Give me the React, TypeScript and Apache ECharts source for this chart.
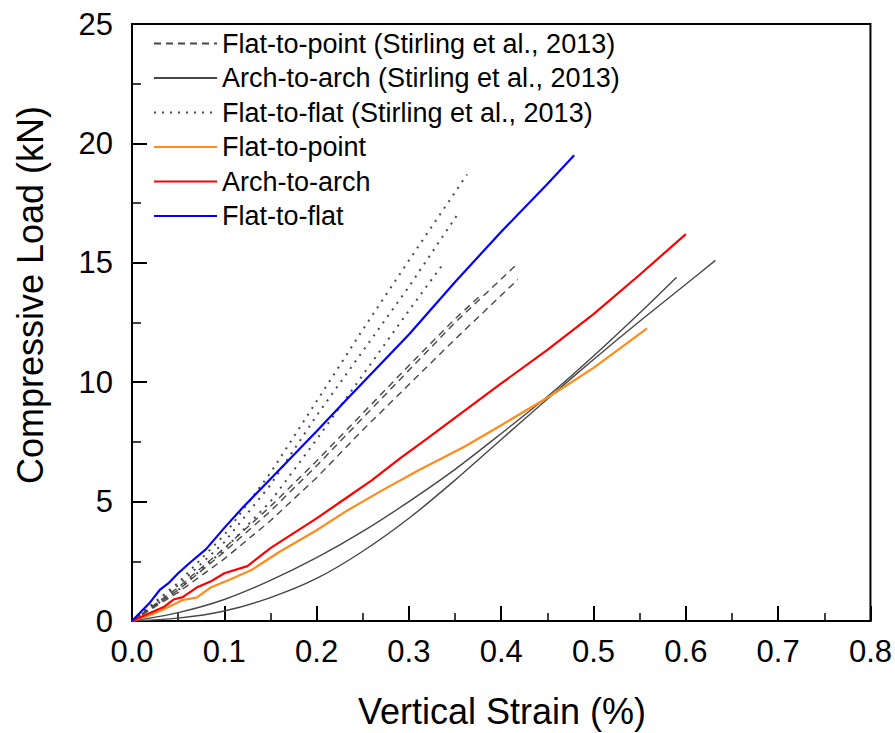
import React, { useEffect, useRef } from "react";
import * as echarts from "echarts";

const FONT = '"Liberation Sans", Arial, Helvetica, sans-serif';

const xTicks = [0, 0.1, 0.2, 0.3, 0.4, 0.5, 0.6, 0.7, 0.8];
const yTicks = [0, 5, 10, 15, 20, 25];

const legendNames = [
  "Flat-to-point (Stirling et al., 2013)",
  "Arch-to-arch (Stirling et al., 2013)",
  "Flat-to-flat (Stirling et al., 2013)",
  "Flat-to-point",
  "Arch-to-arch",
  "Flat-to-flat",
];

// Stirling et al. (2013) flat-to-point (dashed)
const stirlingFtP1 = [[0, 0], [0.05, 1.3], [0.1, 2.9], [0.15, 4.6], [0.2, 6.5], [0.25, 8.5], [0.3, 10.5], [0.35, 12.5], [0.416, 14.9]];
const stirlingFtP2 = [[0, 0], [0.05, 1.4], [0.1, 3.05], [0.15, 4.8], [0.2, 6.7], [0.25, 8.7], [0.3, 10.7], [0.35, 12.65], [0.378, 13.65]];
const stirlingFtP3 = [[0, 0], [0.05, 1.2], [0.1, 2.6], [0.15, 4.2], [0.2, 6.0], [0.25, 8.0], [0.3, 9.9], [0.35, 11.8], [0.418, 14.3]];

// Stirling et al. (2013) arch-to-arch (solid grey)
const stirlingAtA1 = [[0, 0], [0.05, 0.35], [0.1, 0.9], [0.15, 1.7], [0.2, 2.65], [0.25, 3.75], [0.3, 5.0], [0.35, 6.35], [0.4, 7.85], [0.45, 9.4], [0.5, 11.1], [0.55, 12.9], [0.59, 14.4]];
const stirlingAtA2 = [[0, 0], [0.05, 0.12], [0.1, 0.42], [0.15, 0.98], [0.2, 1.78], [0.25, 2.92], [0.3, 4.3], [0.35, 5.9], [0.4, 7.6], [0.45, 9.3], [0.5, 10.95], [0.55, 12.55], [0.6, 14.1], [0.632, 15.1]];

// Stirling et al. (2013) flat-to-flat (dotted)
const stirlingFtF1 = [[0, 0], [0.05, 1.6], [0.1, 3.6], [0.15, 6.2], [0.2, 9.2], [0.25, 12.2], [0.3, 15.1], [0.363, 18.7]];
const stirlingFtF2 = [[0, 0], [0.05, 1.5], [0.1, 3.3], [0.15, 5.7], [0.2, 8.6], [0.25, 11.3], [0.3, 14.0], [0.354, 17.1]];
const stirlingFtF3 = [[0, 0], [0.05, 1.3], [0.1, 3.0], [0.15, 5.0], [0.2, 7.6], [0.25, 10.3], [0.3, 13.0], [0.336, 14.9]];

// This study
const flatToPoint = [[0, 0], [0.02, 0.25], [0.035, 0.5], [0.055, 0.88], [0.07, 0.98], [0.085, 1.4], [0.105, 1.72], [0.13, 2.15], [0.16, 2.9], [0.2, 3.8], [0.232, 4.6], [0.27, 5.45], [0.31, 6.3], [0.36, 7.3], [0.4, 8.2], [0.45, 9.35], [0.5, 10.6], [0.558, 12.25]];
const archToArch = [[0, 0], [0.02, 0.35], [0.035, 0.6], [0.045, 0.9], [0.055, 1.0], [0.07, 1.4], [0.085, 1.65], [0.1, 2.0], [0.125, 2.3], [0.15, 3.05], [0.16, 3.3], [0.2, 4.3], [0.232, 5.15], [0.26, 5.9], [0.29, 6.8], [0.32, 7.65], [0.36, 8.8], [0.4, 9.95], [0.45, 11.35], [0.5, 12.85], [0.55, 14.5], [0.6, 16.2]];
const flatToFlat = [[0, 0], [0.01, 0.4], [0.02, 0.8], [0.03, 1.3], [0.04, 1.6], [0.05, 2.0], [0.063, 2.45], [0.08, 3.0], [0.1, 3.9], [0.12, 4.75], [0.15, 5.95], [0.2, 7.95], [0.232, 9.25], [0.3, 12.0], [0.35, 14.2], [0.4, 16.3], [0.45, 18.3], [0.479, 19.5]];

const GREY = "#474747";

function line(name: string, data: number[][], color: string, width: number, type: any, z: number, smooth: number | boolean = false) {
  return {
    type: "line",
    name,
    data,
    symbol: "none",
    showSymbol: false,
    smooth,
    z,
    lineStyle: { color, width, type, cap: "butt" },
    itemStyle: { color },
  };
}

export default function App() {
  const ref = useRef<HTMLDivElement>(null);
  useEffect(() => {
    document.body.style.margin = "0";
    const chart = echarts.init(ref.current!, null, { renderer: "svg" });
    const dashed = [7, 5];
    const dotted = [2, 6];
    const option: any = {
      animation: false,
      backgroundColor: "#fff",
      grid: { left: 132, right: 23, top: 24, bottom: 112, show: true, borderColor: "#000", borderWidth: 2, backgroundColor: "transparent" },
      legend: {
        orient: "vertical",
        left: 153,
        top: 30,
        padding: 0,
        itemGap: 7.5,
        itemWidth: 63,
        itemHeight: 14,
        data: legendNames,
        itemStyle: { opacity: 0, borderWidth: 0 },
        textStyle: { fontSize: 27, lineHeight: 27, color: "#000", fontFamily: FONT },
        selectedMode: false,
      },
      xAxis: {
        type: "value",
        min: xTicks[0],
        max: xTicks[xTicks.length - 1],
        interval: 0.1,
        axisLine: { onZero: false, lineStyle: { color: "#000", width: 2 } },
        axisTick: { inside: true, length: 15, lineStyle: { color: "#000", width: 2 } },
        minorTick: { show: true, splitNumber: 2, length: 8, lineStyle: { color: "#000", width: 1.5 } },
        axisLabel: { fontSize: 31, color: "#000", margin: 15, fontFamily: FONT, formatter: (v: number) => v.toFixed(1) },
        splitLine: { show: false },
        minorSplitLine: { show: false },
      },
      yAxis: {
        type: "value",
        min: yTicks[0],
        max: yTicks[yTicks.length - 1],
        interval: 5,
        axisLine: { onZero: false, lineStyle: { color: "#000", width: 2 } },
        axisTick: { inside: true, length: 15, lineStyle: { color: "#000", width: 2 } },
        minorTick: { show: true, splitNumber: 2, length: 9, lineStyle: { color: "#000", width: 1.5 } },
        axisLabel: { fontSize: 31, color: "#000", margin: 19, fontFamily: FONT },
        splitLine: { show: false },
        minorSplitLine: { show: false },
      },
      graphic: [
        {
          type: "text",
          x: 502,
          y: 711,
          style: { text: "Vertical Strain (%)", fontSize: 36, fontFamily: FONT, fill: "#000", align: "center", verticalAlign: "middle" },
        },
        {
          type: "text",
          x: 30,
          y: 295,
          rotation: Math.PI / 2,
          style: { text: "Compressive Load (kN)", fontSize: 36, fontFamily: FONT, fill: "#000", align: "center", verticalAlign: "middle" },
        },
      ],
      series: [
        line(legendNames[0], stirlingFtP1, GREY, 1.4, dashed, 2),
        line(legendNames[0], stirlingFtP2, GREY, 1.4, dashed, 2),
        line(legendNames[0], stirlingFtP3, GREY, 1.4, dashed, 2),
        line(legendNames[1], stirlingAtA1, GREY, 1.4, "solid", 2, 0.3),
        line(legendNames[1], stirlingAtA2, GREY, 1.4, "solid", 2, 0.3),
        line(legendNames[2], stirlingFtF1, GREY, 2, dotted, 2),
        line(legendNames[2], stirlingFtF2, GREY, 2, dotted, 2),
        line(legendNames[2], stirlingFtF3, GREY, 2, dotted, 2),
        line(legendNames[3], flatToPoint, "#FF8C1A", 2.2, "solid", 3),
        line(legendNames[4], archToArch, "#FF0000", 2.2, "solid", 3),
        line(legendNames[5], flatToFlat, "#0000FF", 2.2, "solid", 3),
      ],
    };
    chart.setOption(option);
    return () => chart.dispose();
  }, []);
  return <div ref={ref} style={{ width: 895, height: 733 }} />;
}
